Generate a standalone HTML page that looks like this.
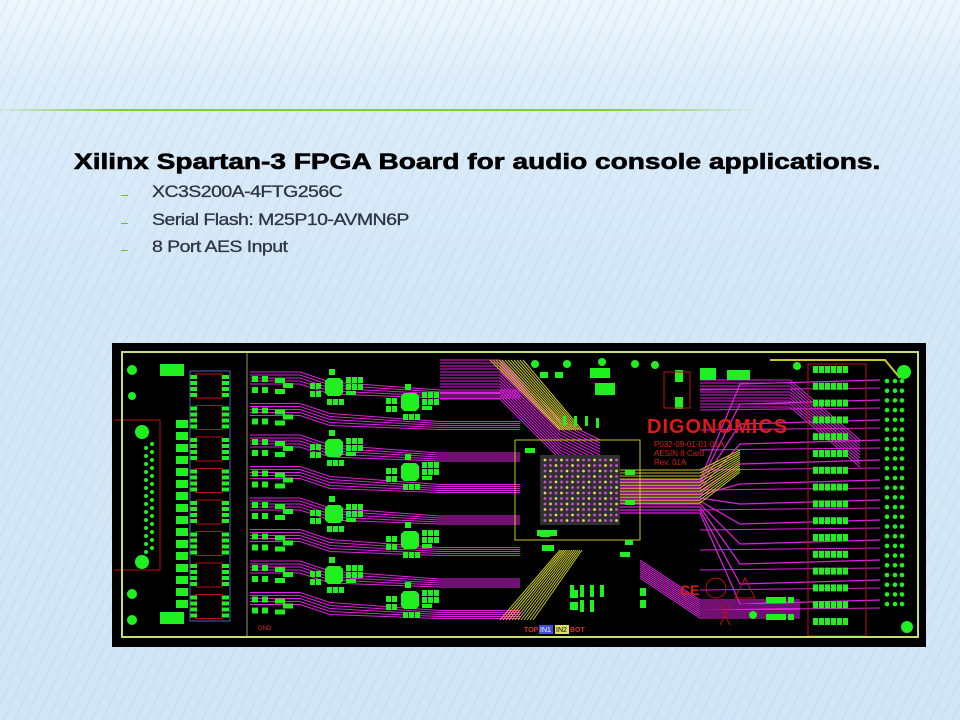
<!DOCTYPE html>
<html><head><meta charset="utf-8"><style>
html,body{margin:0;padding:0}
body{width:960px;height:720px;position:relative;overflow:hidden;font-family:"Liberation Sans",Arial,sans-serif;
background:linear-gradient(180deg,#eef6fc 0px,#dcecf9 90px,#d3e7f7 300px,#d0e5f6 720px);}
.stripes{position:absolute;left:0;top:0;width:960px;height:720px;
background:repeating-linear-gradient(-65deg,rgba(255,255,255,0) 0px,rgba(255,255,255,0) 6px,rgba(170,200,225,0.35) 7px,rgba(255,255,255,0) 8px,rgba(255,255,255,0) 10px);}
.gline{position:absolute;left:0;top:109px;width:760px;height:2px;background:linear-gradient(90deg,rgba(120,200,60,0.1),#7ccf3c 15%,#7ccf3c 80%,rgba(120,200,60,0))}
h1{position:absolute;left:74px;top:149px;margin:0;font-size:22px;font-weight:bold;color:#000;white-space:nowrap;transform:scaleX(1.275);transform-origin:0 0;-webkit-text-stroke:0.6px #000}
.b{position:absolute;left:152px;font-size:17px;color:#2e3444;letter-spacing:-0.5px;white-space:nowrap;transform:scaleX(1.15);transform-origin:0 0;-webkit-text-stroke:0.3px #2e3444}
.d{position:absolute;left:121px;width:7px;height:1px;background:#6bc02a}
svg{position:absolute;left:0;top:0}
</style></head><body>
<div class="stripes"></div>
<div class="gline"></div>
<h1>Xilinx Spartan-3 FPGA Board for audio console applications.</h1>
<div class="d" style="top:195px"></div><div class="b" style="top:182px">XC3S200A-4FTG256C</div>
<div class="d" style="top:223px"></div><div class="b" style="top:210px">Serial Flash: M25P10-AVMN6P</div>
<div class="d" style="top:250px"></div><div class="b" style="top:237px">8 Port AES Input</div>
<svg id="s" width="960" height="720" xmlns="http://www.w3.org/2000/svg">
<rect x="112" y="343" width="814" height="304" fill="#000"/>
<g id="g"></g>
<rect x="122" y="352" width="796" height="285" fill="none" stroke="#c6e070" stroke-width="2"/>
<line x1="247" y1="353" x2="247" y2="636" stroke="#a09060" stroke-width="1"/>
<rect x="190" y="371" width="40" height="250" fill="none" stroke="#5060c0" stroke-width="1"/>
<text x="647" y="433" fill="#e01818" font-size="20" font-weight="bold" letter-spacing="1">DIGONOMICS</text>
<text x="654" y="447" fill="#e01818" font-size="8">P032-09-01-01-01A</text>
<text x="654" y="456" fill="#e01818" font-size="8">AESIN 8 Card</text>
<text x="654" y="465" fill="#e01818" font-size="8">Rev. 01A</text>
<text x="680" y="595" fill="#e01818" font-size="14" font-weight="bold">CE</text>
<text x="524" y="632" fill="#e03030" font-size="7" font-weight="bold">TOP</text>
<rect x="539" y="625" width="14" height="9" fill="#4050d0"/><text x="540" y="632" fill="#fff" font-size="7">IN1</text>
<rect x="555" y="625" width="14" height="9" fill="#e0e060"/><text x="556" y="632" fill="#000" font-size="7">IN2</text>
<text x="570" y="632" fill="#e03030" font-size="7" font-weight="bold">BOT</text>
<text x="258" y="630" fill="#e03030" font-size="6">GND</text>
</svg>
<script>
var g=document.getElementById('g'),h='';
function R(x,y,w,hh,c){h+='<rect x="'+x+'" y="'+y+'" width="'+w+'" height="'+hh+'" fill="'+c+'"/>';}
function C(x,y,r,c){h+='<circle cx="'+x+'" cy="'+y+'" r="'+r+'" fill="'+c+'"/>';}
function L(p,c,w){h+='<polyline points="'+p+'" fill="none" stroke="'+c+'" stroke-width="'+(w||1)+'"/>';}
var P='#e020e0',G='#20f020',Y='#c8c820',RD='#c01010';
for(var i=0;i<8;i++){var y=372+i*31.5;
 for(var k=0;k<5;k++){L('250,'+(y+k*3)+' 300,'+(y+k*3)+' 330,'+(y+k*3+10)+' 440,'+(y+k*2+18)+' 520,'+(y+k*2+18),P,1);}}
for(var i=0;i<14;i++){L('440,'+(360+i*3)+' 500,'+(360+i*3)+' 560,'+(420+i*3)+' 600,'+(440+i*3),P,1);}
for(var i=0;i<12;i++){var y=380+i*20;L('620,'+(480+i*3)+' 700,'+(480+i*3)+' 740,'+(y+4)+' 880,'+y,P,1.2);L('700,'+(y+10)+' 880,'+(y+8),P,1);}
for(var i=0;i<10;i++){L('700,'+(380+i*3)+' 790,'+(380+i*3)+' 860,'+(440+i*3),P,1);L('640,'+(560+i*2)+' 700,'+(600+i*2)+' 800,'+(600+i*2),P,1);}
for(var i=0;i<12;i++){L((490+i*3)+',360 '+(560+i*2)+',430',Y,1);L((500+i*3)+',620 '+(560+i*2)+',550',Y,1);L('600,'+(470+i*3)+' 700,'+(470+i*3)+' 740,'+(450+i*2),Y,1);}
L('515,440 515,540 640,540 640,440 515,440',Y,1);
L('770,360 885,360 900,378',Y,2);
R(540,455,80,70,'#303030');
for(var a=0;a<14;a++)for(var b=0;b<12;b++)C(545+a*5.5,460+b*5.5,1.4,(a+b)%3?'#d050d0':'#e0e060');
C(132,370,5,G);C(132,396,4,G);C(142,432,7,G);C(142,562,7,G);C(132,594,5,G);C(132,620,5,G);
for(var i=0;i<14;i++){C(146,448+i*8,2,G);C(152,444+i*8,2,G);}
L('114,420 160,420 160,570 114,570',RD,1);
R(160,364,24,12,G);R(160,612,24,12,G);
for(var i=0;i<16;i++)R(176,420+i*12,12,8,G);
for(var i=0;i<8;i++){var y=373+i*31.5;R(196,y+1,26,24,'#000');h+='<rect x="196" y="'+(y+1)+'" width="26" height="24" fill="none" stroke="'+RD+'"/>';
 for(var k=0;k<4;k++){R(190,y+2+k*6,7,4,G);R(222,y+2+k*6,7,4,G);}
 R(252,y+3,6,6,G);R(262,y+3,6,6,G);R(252,y+14,6,6,G);R(262,y+14,6,6,G);
 R(275,y+5,10,5,G);R(275,y+16,10,5,G);R(283,y+10,10,5,G);}
var ic=[[334,387],[334,448],[334,514],[334,575],[410,402],[410,472],[410,540],[410,600]];
ic.forEach(function(q){var x=q[0],y=q[1];
 h+='<polygon points="'+(x-6)+','+(y-9)+' '+(x+6)+','+(y-9)+' '+(x+9)+','+(y-6)+' '+(x+9)+','+(y+6)+' '+(x+6)+','+(y+9)+' '+(x-6)+','+(y+9)+' '+(x-9)+','+(y+6)+' '+(x-9)+','+(y-6)+'" fill="'+G+'"/>';
 for(var a=0;a<3;a++)for(var b=0;b<2;b++){R(x+12+a*6,y-10+b*7,5,6,G);R(x-24+b*6,y-4,5,6,G);R(x-7+a*6,y+12,5,6,G);}
 R(x-24,y+4,5,6,G);R(x-18,y+4,5,6,G);R(x+12,y+4,10,4,G);R(x-5,y-18,6,6,G);});
R(540,372,8,6,G);R(555,372,8,6,G);R(590,368,10,10,G);R(600,368,10,10,G);R(595,383,10,12,G);R(605,383,10,12,G);
C(535,364,4,G);C(567,364,4,G);C(602,362,4,G);C(635,364,4,G);C(655,365,4,G);C(797,366,4,G);C(904,372,7,G);C(907,627,6,G);C(753,615,4,G);
R(563,416,3,10,G);R(574,416,3,10,G);R(585,416,3,10,G);R(596,418,3,10,G);
R(675,370,8,12,G);R(675,397,8,12,G);h+='<rect x="664" y="372" width="26" height="36" fill="none" stroke="'+RD+'"/>';
R(700,368,10,12,G);R(708,368,8,12,G);R(727,370,14,10,G);R(740,370,10,10,G);
R(570,585,4,12,G);R(580,585,4,12,G);R(590,585,4,12,G);R(600,585,4,12,G);R(580,600,4,12,G);R(590,600,4,12,G);
R(570,590,8,8,G);R(570,602,8,8,G);R(640,588,6,8,G);R(640,600,6,8,G);
R(525,448,10,5,G);R(625,470,10,5,G);R(625,500,10,5,G);R(540,532,10,5,G);R(625,540,8,5,G);R(620,552,10,5,G);
R(537,530,20,6,G);R(542,545,12,6,G);
for(var i=0;i<16;i++){var y=366+i*16.8;for(var k=0;k<6;k++)R(813+k*6,y,5,7,G);}
h+='<rect x="808" y="364" width="58" height="272" fill="none" stroke="'+RD+'"/>';
for(var i=0;i<24;i++){C(887,381+i*9.7,2.3,G);C(895,381+i*9.7,2.3,G);C(902,381+i*9.7,2.3,G);}
R(766,597,20,6,G);R(766,614,20,6,G);R(788,597,6,6,G);R(788,614,6,6,G);
h+='<circle cx="716" cy="588" r="10" fill="none" stroke="'+RD+'"/><polygon points="745,578 735,598 755,598" fill="none" stroke="'+RD+'"/>';
L('720,605 730,625',RD,1);L('730,605 720,625',RD,1);
g.innerHTML=h;
</script>
</body></html>
